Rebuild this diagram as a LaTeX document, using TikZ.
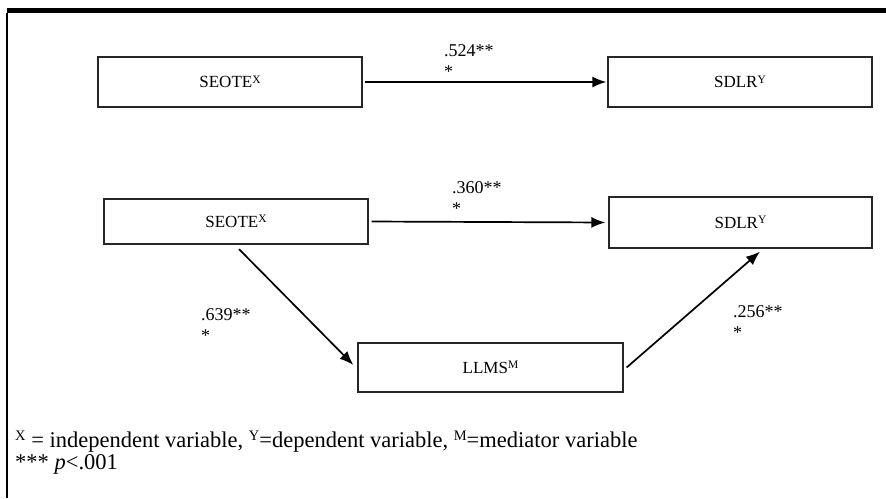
\documentclass[tikz,border=0pt]{standalone}
\usepackage{fontspec}
\setmainfont{Liberation Serif}
\usetikzlibrary{arrows.meta}
\newcommand\supx[1]{\raisebox{0.27em}{\fontsize{11.5}{11.5}\selectfont #1}}
\newcommand\supf[1]{\raisebox{0.3em}{\fontsize{14.5}{14.5}\selectfont #1}}
\begin{document}
\begin{tikzpicture}[x=1pt,y=-1pt,
  varbox/.style={draw=black!85, line width=1.2pt, inner sep=0pt, font=\fontsize{17}{20}\selectfont},
  conn/.style={line width=1.7pt, -{Latex[length=14pt,width=11pt]}},
  coef/.style={anchor=north west, inner sep=0pt, align=left, font=\fontsize{18}{21}\selectfont},
  note/.style={anchor=north west, inner sep=0pt, align=left, font=\fontsize{22.5}{22}\selectfont}]
\useasboundingbox (0,0) rectangle (886,498);
\fill (7,8) rectangle (886,13);
\draw[line width=1.3pt] (7,13) -- (7,498);

\node[varbox, minimum width=264pt, minimum height=50pt] (b1) at (230,82) {SEOTE\supx{X}};
\node[varbox, minimum width=264pt, minimum height=50pt] (b2) at (740,82) {SDLR\supx{Y}};
\node[varbox, minimum width=264pt, minimum height=45pt] (b3) at (236,221.5) {SEOTE\supx{X}};
\node[varbox, minimum width=263pt, minimum height=51pt] (b4) at (740.5,222.5) {SDLR\supx{Y}};
\node[varbox, minimum width=265pt, minimum height=49pt] (b5) at (490.5,367.5) {LLMS\supx{M}};

\draw[conn, shorten <=2pt, shorten >=1pt] (b1.east) -- (b2.west);
\draw[conn, shorten <=3pt, shorten >=3pt] (b3.east) -- (b4.west);
\draw[conn] ([xshift=3pt,yshift=-4.5pt]b3.south) -- ([xshift=-4pt,yshift=2.5pt]b5.west);
\draw[conn] ([xshift=3pt]b5.east) -- ([xshift=19.5pt,yshift=-3pt]b4.south);

\node[coef] (l1) at (444,44.5) {.524**\\*};
\node[coef] (l2) at (452,181.5) {.360**\\*};
\node[coef] (l3) at (201,308.5) {.639**\\*};
\node[coef] (l4) at (733,305.5) {.256**\\*};

\node[note] (fn) at (15,431) {\supf{X} = independent variable, \supf{Y}=dependent variable, \supf{M}=mediator variable\\*** \textit{p}<.001};
\end{tikzpicture}
\end{document}
